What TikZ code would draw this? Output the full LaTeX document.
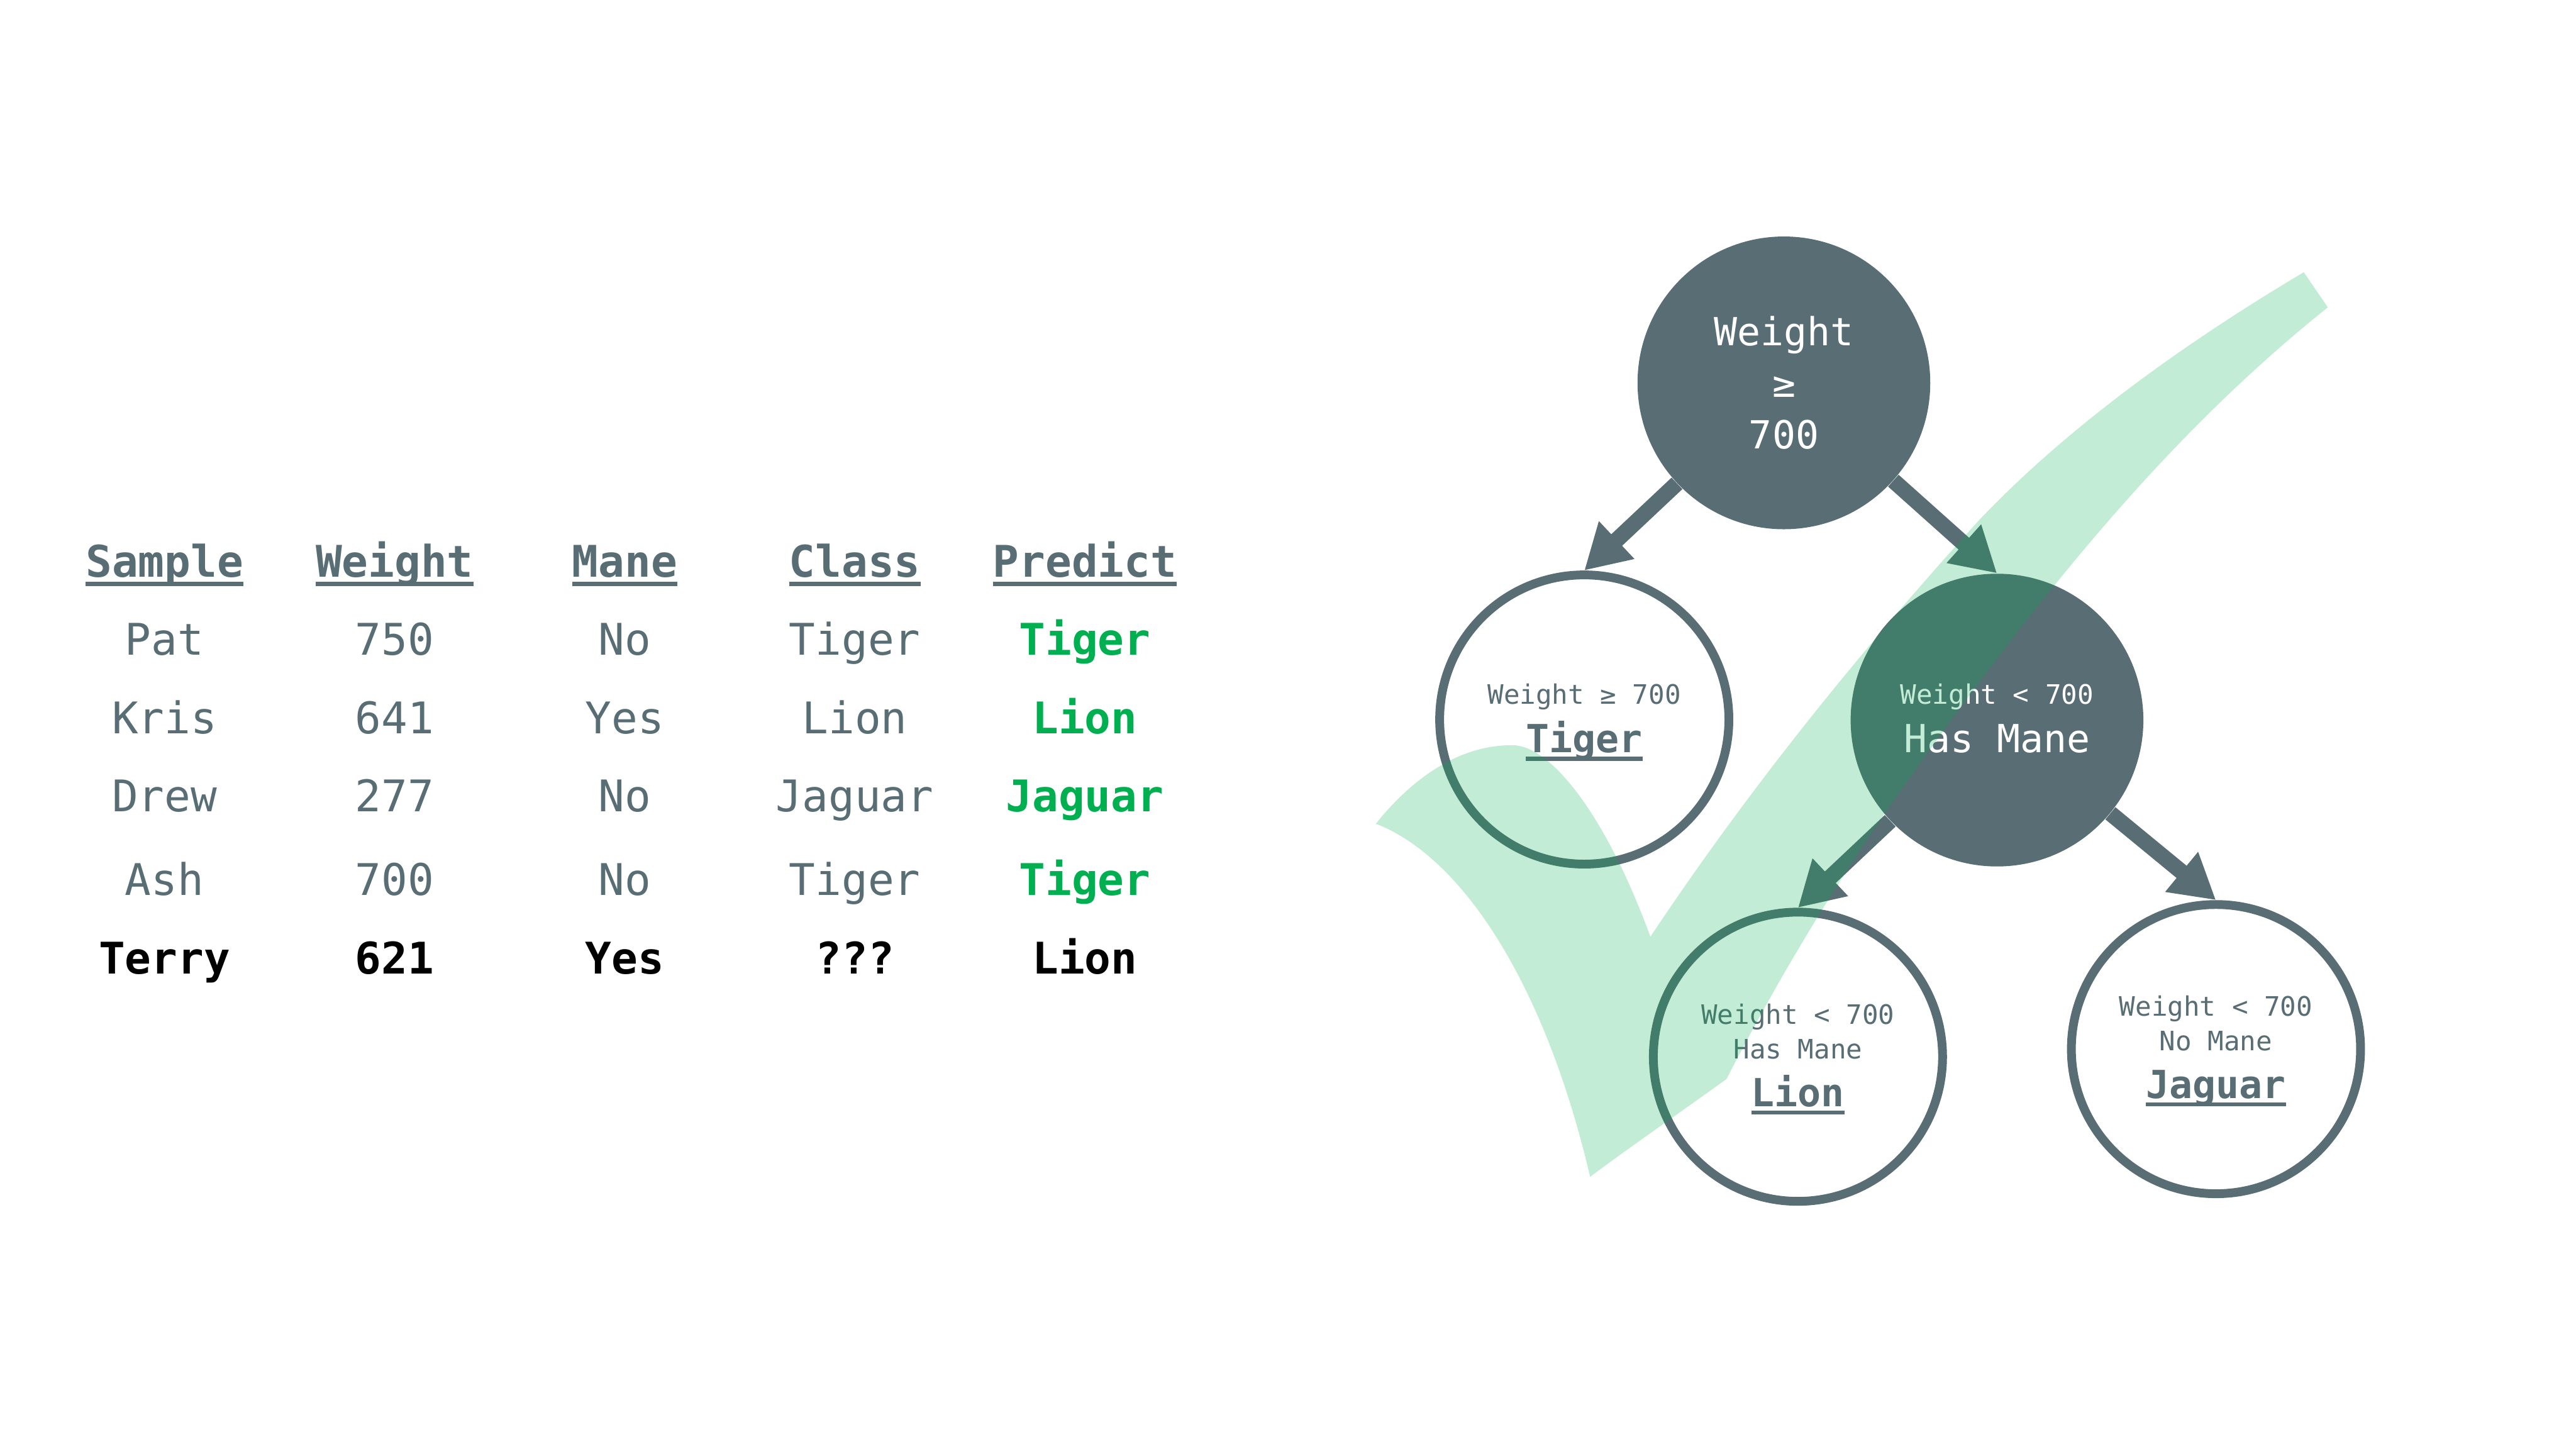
\documentclass[tikz,border=0pt]{standalone}
\usepackage{fontspec}
\setmainfont{DejaVu Sans Mono}
\usetikzlibrary{positioning,arrows.meta}
\definecolor{pizarra}{HTML}{586D74}
\definecolor{verde}{HTML}{00B050}
% text sizes: table, large and small node lines
\newcommand{\fontT}{\fontsize{21.2}{26}\selectfont}
\newcommand{\fontB}{\fontsize{18.8}{23.5}\selectfont}
\newcommand{\fontS}{\fontsize{13}{16.8}\selectfont}
\newcommand{\subr}[1]{\setbox0=\hbox{#1}\dimen0=\wd0 \rlap{\box0}\rule[-.21em]{\dimen0}{.105em}}

\begin{document}
\begin{tikzpicture}[font=\fontT, on grid,
      dec/.style={circle, draw=none, fill=pizarra, text=white, minimum size=5cm,
                  inner sep=0pt, align=center},
      leaf/.style={circle, draw=pizarra, line width=.15cm, text=pizarra, minimum size=4.94cm,
                   inner sep=0pt, align=center},
      base/.style={text height=#1, text depth=0pt},
      arr/.style={-{Triangle[length=.76cm,width=.83cm]}, line width=.27cm, draw=pizarra},
      cell/.style={text=pizarra, text height=.6cm, text depth=.2cm, inner sep=0pt},
      hd/.style={cell, font=\fontT\bfseries},
      pr/.style={cell, font=\fontT\bfseries, text=verde},
      nw/.style={cell, font=\fontT\bfseries, text=black},
      check/.style={fill=verde, fill opacity=.24}]
    \useasboundingbox (0,0) rectangle (44,24.75);

    % Table, one row after the other
    \node[hd] (samH) at (2.81,15.09) {\subr{Sample}};
    \node[hd, right=3.93cm of samH] (wgtH) {\subr{Weight}};
    \node[hd, right=3.93cm of wgtH] (manH) {\subr{Mane}};
    \node[hd, right=3.93cm of manH] (claH) {\subr{Class}};
    \node[hd, right=3.93cm of claH] (preH) {\subr{Predict}};

    \node[cell, below=1.325cm of samH] (samA) {Pat};
    \node[cell, right=3.93cm of samA] (wgtA) {750};
    \node[cell, right=3.93cm of wgtA] (manA) {No};
    \node[cell, right=3.93cm of manA] (claA) {Tiger};
    \node[pr, right=3.93cm of claA] (preA) {Tiger};

    \node[cell, below=1.345cm of samA] (samB) {Kris};
    \node[cell, right=3.93cm of samB] (wgtB) {641};
    \node[cell, right=3.93cm of wgtB] (manB) {Yes};
    \node[cell, right=3.93cm of manB] (claB) {Lion};
    \node[pr, right=3.93cm of claB] (preB) {Lion};

    \node[cell, below=1.33cm of samB] (samC) {Drew};
    \node[cell, right=3.93cm of samC] (wgtC) {277};
    \node[cell, right=3.93cm of wgtC] (manC) {No};
    \node[cell, right=3.93cm of manC] (claC) {Jaguar};
    \node[pr, right=3.93cm of claC] (preC) {Jaguar};

    \node[cell, below=1.43cm of samC] (samD) {Ash};
    \node[cell, right=3.93cm of samD] (wgtD) {700};
    \node[cell, right=3.93cm of wgtD] (manD) {No};
    \node[cell, right=3.93cm of manD] (claD) {Tiger};
    \node[pr, right=3.93cm of claD] (preD) {Tiger};

    \node[nw, below=1.34cm of samD] (samE) {Terry};
    \node[nw, right=3.93cm of samE] (wgtE) {621};
    \node[nw, right=3.93cm of wgtE] (manE) {Yes};
    \node[nw, right=3.93cm of manE] (claE) {???};
    \node[nw, right=3.93cm of claE] (preE) {Lion};

    % Tree
    \node[dec, base=2.24cm] (root) at (30.47,18.21)
      {\fontB Weight\\[-.034cm]\fontB ≥\\[-.034cm]\fontB 700};
    \node[leaf, base=1.13cm, below left=5.75cm and 3.41cm of root] (tiger)
      {\fontS Weight ≥ 700\\[-.088cm]\fontB\bfseries\subr{Tiger}};
    \node[dec, base=1.11cm, below right=5.76cm and 3.64cm of root] (mane)
      {\fontS Weight < 700\\[-.088cm]\fontB Has Mane};
    \node[leaf, base=1.70cm, below left=5.75cm and 3.40cm of mane] (lion)
      {\fontS Weight < 700\\[-.324cm]\fontS Has Mane\\[-.094cm]\fontB\bfseries\subr{Lion}};
    \node[leaf, base=1.68cm, below right=5.62cm and 3.74cm of mane] (jaguar)
      {\fontS Weight < 700\\[-.324cm]\fontS No Mane\\[-.094cm]\fontB\bfseries\subr{Jaguar}};

    \draw[arr] (root) -- (tiger.north);
    \draw[arr] (root) -- (mane.north);
    \draw[arr] (mane) -- (lion.north);
    \draw[arr] (mane) -- (jaguar.north);

    % Check mark over everything
    \fill[check] (39.35,20.10) -- (39.76,19.50)
      .. controls (36.96,17.26) and (34.68,14.42) .. (32.18,10.84)
      .. controls (31.2,9.4) and (30.3,7.9) .. (29.49,6.32)
      .. controls (28.7,5.75) and (27.9,5.2) .. (27.16,4.65)
      .. controls (26.4,7.9) and (25.0,10.1) .. (23.50,10.68)
      .. controls (24.2,11.55) and (25.0,12.02) .. (25.81,12.02)
      .. controls (26.45,12.05) and (27.4,10.9) .. (28.19,8.75)
      .. controls (29.99,11.45) and (31.89,13.75) .. (33.79,15.85)
      .. controls (35.4,17.55) and (37.5,19.0) .. (39.35,20.10) -- cycle;
\end{tikzpicture}
\end{document}
